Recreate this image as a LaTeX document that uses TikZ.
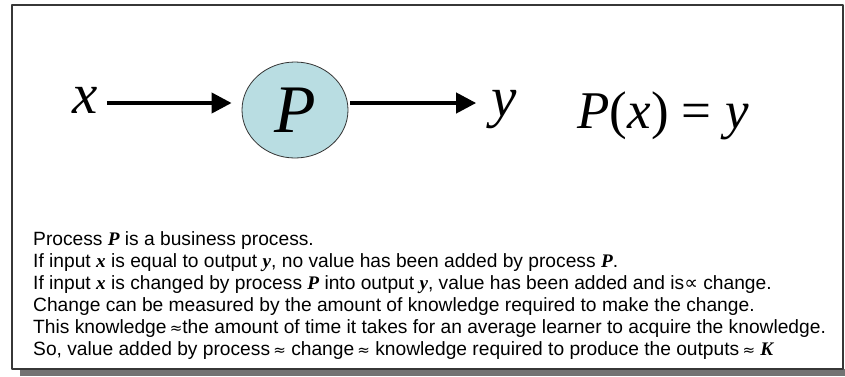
\documentclass[tikz,border=0pt]{standalone}
\usepackage{fontspec}
\setmainfont{Liberation Serif}
\setsansfont{Liberation Sans}
\newfontfamily\sym{DejaVu Sans}
\usetikzlibrary{arrows.meta,shapes.geometric}
\definecolor{procfill}{RGB}{185,221,226}
\definecolor{framegray}{RGB}{55,55,55}
\newcommand\bvar[1]{{\rmfamily\bfseries\itshape #1}}
\newcommand\ivar[1]{{\rmfamily\itshape #1}}
\newcommand\apx{{\sym\fontsize{15}{15}\selectfont ≈}}
\newcommand\prp{{\sym ∝}}
\begin{document}
\begin{tikzpicture}[x=1pt, y=-1pt, line join=round,
	flow/.style={line width=4pt, -{Triangle[length=20pt,width=20pt]}},
	var/.style={font=\rmfamily\fontsize{57}{60}\selectfont, inner sep=2pt, anchor=base},
	proc/.style={ellipse, draw=black!80, line width=0.8pt, fill=procfill, minimum width=106pt, minimum height=96pt, inner sep=0pt, font=\rmfamily\fontsize{68}{70}\selectfont},
	notes/.style={font=\sffamily\fontsize{19.2}{22}\selectfont, align=left, anchor=north west, inner sep=0pt}]
	\useasboundingbox (0,0) rectangle (845,376);
	% ==========================================
	% frame and its shadow
	\fill[black!55] (20,369) rectangle (845,376);
	\draw[framegray, line width=1.5pt, fill=white] (12,5) rectangle (843,369);
	% ==========================================
	% x -> P -> y
	\coordinate (axis) at (0,103);
	\node[var] (x) at (85,113) {\ivar{x}};
	\node[proc] (P) at (295,110) {\ivar{P}};
	\node[var] (y) at (504,116) {\ivar{y}};
	\node[var, font=\rmfamily\fontsize{53}{56}\selectfont] (Pxy) at (663,128) {\ivar{P}(\ivar{x}) = \ivar{y}};
	\draw[flow, shorten <=7pt, shorten >=10pt] (x.east |- axis) -- (P.west |- axis);
	\draw[flow, shorten <=2pt, shorten >=13pt] (P.east |- axis) -- (y.west |- axis);
	% ==========================================
	% explanation
	\node[notes] (text) at (33,231) {Process \bvar{P} is a business process.\\
		If input \bvar{x} is equal to output \bvar{y}, no value has been added by process \bvar{P}.\\
		If input \bvar{x} is changed by process \bvar{P} into output \bvar{y}, value has been added and is\prp{} change.\\
		Change can be measured by the amount of knowledge required to make the change.\\
		This knowledge\,\apx the amount of time it takes for an average learner to acquire the knowledge.\\
		So, value added by process\,\apx{} change\,\apx{} knowledge required to produce the outputs\,\apx{} \bvar{K}};
\end{tikzpicture}
\end{document}
